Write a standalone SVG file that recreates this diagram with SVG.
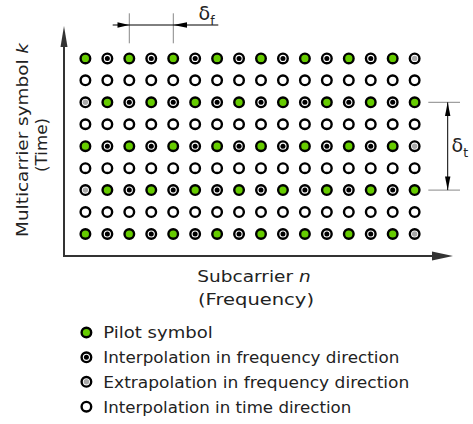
<svg xmlns="http://www.w3.org/2000/svg" xmlns:xlink="http://www.w3.org/1999/xlink" width="473" height="424" viewBox="0 0 473 424">
<style>
.lbl{font-family:"DejaVu Sans","Liberation Sans",sans-serif;font-size:16.5px;fill:#222}
.dl{font-family:"DejaVu Sans","Liberation Sans",sans-serif;font-size:19px;fill:#222}
.sub{font-size:12.5px}
.ax{stroke:#333;stroke-width:2;fill:none}
.ext{stroke:#888;stroke-width:1;fill:none}
.dim{stroke:#000;stroke-width:1;fill:none}
.ring{stroke:#000;stroke-width:2.4}
</style>
<defs>
<g id="P"><circle class="ring" r="4.8" fill="#66cc00"/></g>
<g id="D"><circle class="ring" r="4.8" fill="#fff"/><circle r="2.5" fill="#000"/></g>
<g id="G"><circle class="ring" r="4.8" fill="#fff"/><circle r="2.7" fill="#a8a8a8"/></g>
<g id="O"><circle class="ring" r="4.8" fill="#fff"/></g>
</defs>
<rect width="473" height="424" fill="#fff"/>
<g id="connectors">
<path class="ax" d="M64,40 V256 H440"/>
<polygon points="64,26 60.5,47 67.5,47" fill="#333"/>
<polygon points="453,256 432,251.5 432,260.5" fill="#333"/>
<line class="ext" x1="129.3" y1="13.3" x2="129.3" y2="43.3"/>
<line class="ext" x1="173.3" y1="13.3" x2="173.3" y2="43.3"/>
<line class="dim" x1="112.7" y1="25" x2="218.3" y2="25"/>
<polygon points="129.3,25 117.5,22.3 117.5,27.7" fill="#000"/>
<polygon points="173.3,25 187,22.3 187,27.7" fill="#000"/>
<line class="ext" x1="428.3" y1="102.3" x2="460" y2="102.3"/>
<line class="ext" x1="428.3" y1="190.1" x2="460" y2="190.1"/>
<line class="dim" x1="447.7" y1="102.3" x2="447.7" y2="190.1"/>
<polygon points="447.7,102.3 445,116 450.4,116" fill="#000"/>
<polygon points="447.7,190.1 445,176.4 450.4,176.4" fill="#000"/>
</g>
<g id="row0" transform="translate(0,58.4)">
<use xlink:href="#P" x="85.4"/><use xlink:href="#D" x="107.35"/><use xlink:href="#P" x="129.3"/><use xlink:href="#D" x="151.25"/><use xlink:href="#P" x="173.2"/><use xlink:href="#D" x="195.15"/><use xlink:href="#P" x="217.1"/><use xlink:href="#D" x="239.05"/><use xlink:href="#P" x="261"/><use xlink:href="#D" x="282.95"/><use xlink:href="#P" x="304.9"/><use xlink:href="#D" x="326.85"/><use xlink:href="#P" x="348.8"/><use xlink:href="#D" x="370.75"/><use xlink:href="#P" x="392.7"/><use xlink:href="#G" x="414.65"/>
</g>
<g id="row1" transform="translate(0,80.35)">
<use xlink:href="#O" x="85.4"/><use xlink:href="#O" x="107.35"/><use xlink:href="#O" x="129.3"/><use xlink:href="#O" x="151.25"/><use xlink:href="#O" x="173.2"/><use xlink:href="#O" x="195.15"/><use xlink:href="#O" x="217.1"/><use xlink:href="#O" x="239.05"/><use xlink:href="#O" x="261"/><use xlink:href="#O" x="282.95"/><use xlink:href="#O" x="304.9"/><use xlink:href="#O" x="326.85"/><use xlink:href="#O" x="348.8"/><use xlink:href="#O" x="370.75"/><use xlink:href="#O" x="392.7"/><use xlink:href="#O" x="414.65"/>
</g>
<g id="row2" transform="translate(0,102.3)">
<use xlink:href="#G" x="85.4"/><use xlink:href="#P" x="107.35"/><use xlink:href="#D" x="129.3"/><use xlink:href="#P" x="151.25"/><use xlink:href="#D" x="173.2"/><use xlink:href="#P" x="195.15"/><use xlink:href="#D" x="217.1"/><use xlink:href="#P" x="239.05"/><use xlink:href="#D" x="261"/><use xlink:href="#P" x="282.95"/><use xlink:href="#D" x="304.9"/><use xlink:href="#P" x="326.85"/><use xlink:href="#D" x="348.8"/><use xlink:href="#P" x="370.75"/><use xlink:href="#D" x="392.7"/><use xlink:href="#P" x="414.65"/>
</g>
<g id="row3" transform="translate(0,124.25)">
<use xlink:href="#O" x="85.4"/><use xlink:href="#O" x="107.35"/><use xlink:href="#O" x="129.3"/><use xlink:href="#O" x="151.25"/><use xlink:href="#O" x="173.2"/><use xlink:href="#O" x="195.15"/><use xlink:href="#O" x="217.1"/><use xlink:href="#O" x="239.05"/><use xlink:href="#O" x="261"/><use xlink:href="#O" x="282.95"/><use xlink:href="#O" x="304.9"/><use xlink:href="#O" x="326.85"/><use xlink:href="#O" x="348.8"/><use xlink:href="#O" x="370.75"/><use xlink:href="#O" x="392.7"/><use xlink:href="#O" x="414.65"/>
</g>
<g id="row4" transform="translate(0,146.2)">
<use xlink:href="#P" x="85.4"/><use xlink:href="#D" x="107.35"/><use xlink:href="#P" x="129.3"/><use xlink:href="#D" x="151.25"/><use xlink:href="#P" x="173.2"/><use xlink:href="#D" x="195.15"/><use xlink:href="#P" x="217.1"/><use xlink:href="#D" x="239.05"/><use xlink:href="#P" x="261"/><use xlink:href="#D" x="282.95"/><use xlink:href="#P" x="304.9"/><use xlink:href="#D" x="326.85"/><use xlink:href="#P" x="348.8"/><use xlink:href="#D" x="370.75"/><use xlink:href="#P" x="392.7"/><use xlink:href="#G" x="414.65"/>
</g>
<g id="row5" transform="translate(0,168.15)">
<use xlink:href="#O" x="85.4"/><use xlink:href="#O" x="107.35"/><use xlink:href="#O" x="129.3"/><use xlink:href="#O" x="151.25"/><use xlink:href="#O" x="173.2"/><use xlink:href="#O" x="195.15"/><use xlink:href="#O" x="217.1"/><use xlink:href="#O" x="239.05"/><use xlink:href="#O" x="261"/><use xlink:href="#O" x="282.95"/><use xlink:href="#O" x="304.9"/><use xlink:href="#O" x="326.85"/><use xlink:href="#O" x="348.8"/><use xlink:href="#O" x="370.75"/><use xlink:href="#O" x="392.7"/><use xlink:href="#O" x="414.65"/>
</g>
<g id="row6" transform="translate(0,190.1)">
<use xlink:href="#G" x="85.4"/><use xlink:href="#P" x="107.35"/><use xlink:href="#D" x="129.3"/><use xlink:href="#P" x="151.25"/><use xlink:href="#D" x="173.2"/><use xlink:href="#P" x="195.15"/><use xlink:href="#D" x="217.1"/><use xlink:href="#P" x="239.05"/><use xlink:href="#D" x="261"/><use xlink:href="#P" x="282.95"/><use xlink:href="#D" x="304.9"/><use xlink:href="#P" x="326.85"/><use xlink:href="#D" x="348.8"/><use xlink:href="#P" x="370.75"/><use xlink:href="#D" x="392.7"/><use xlink:href="#P" x="414.65"/>
</g>
<g id="row7" transform="translate(0,212.05)">
<use xlink:href="#O" x="85.4"/><use xlink:href="#O" x="107.35"/><use xlink:href="#O" x="129.3"/><use xlink:href="#O" x="151.25"/><use xlink:href="#O" x="173.2"/><use xlink:href="#O" x="195.15"/><use xlink:href="#O" x="217.1"/><use xlink:href="#O" x="239.05"/><use xlink:href="#O" x="261"/><use xlink:href="#O" x="282.95"/><use xlink:href="#O" x="304.9"/><use xlink:href="#O" x="326.85"/><use xlink:href="#O" x="348.8"/><use xlink:href="#O" x="370.75"/><use xlink:href="#O" x="392.7"/><use xlink:href="#O" x="414.65"/>
</g>
<g id="row8" transform="translate(0,234)">
<use xlink:href="#P" x="85.4"/><use xlink:href="#D" x="107.35"/><use xlink:href="#P" x="129.3"/><use xlink:href="#D" x="151.25"/><use xlink:href="#P" x="173.2"/><use xlink:href="#D" x="195.15"/><use xlink:href="#P" x="217.1"/><use xlink:href="#D" x="239.05"/><use xlink:href="#P" x="261"/><use xlink:href="#D" x="282.95"/><use xlink:href="#P" x="304.9"/><use xlink:href="#D" x="326.85"/><use xlink:href="#P" x="348.8"/><use xlink:href="#D" x="370.75"/><use xlink:href="#P" x="392.7"/><use xlink:href="#G" x="414.65"/>
</g>
<g id="delta-f"><text class="dl" x="198.5" y="20">δ<tspan class="sub" dy="5">f</tspan></text></g>
<g id="delta-t"><text class="dl" x="451.5" y="152">δ<tspan class="sub" dy="5">t</tspan></text></g>
<g id="y-label">
<text class="lbl" transform="translate(27.7,140) rotate(-90)" text-anchor="middle" textLength="194" lengthAdjust="spacingAndGlyphs">Multicarrier symbol <tspan font-style="italic">k</tspan></text>
<text class="lbl" transform="translate(46.7,145) rotate(-90)" text-anchor="middle" textLength="54" lengthAdjust="spacingAndGlyphs">(Time)</text>
</g>
<g id="x-label">
<text class="lbl" x="197.3" y="281.5" textLength="113.4" lengthAdjust="spacingAndGlyphs">Subcarrier <tspan font-style="italic">n</tspan></text>
<text class="lbl" x="198" y="304.5" textLength="116" lengthAdjust="spacingAndGlyphs">(Frequency)</text>
</g>
<g id="legend-pilot"><use xlink:href="#P" x="86.4" y="332.5"/><text class="lbl" x="103.3" y="338.3" textLength="109.4" lengthAdjust="spacingAndGlyphs">Pilot symbol</text></g>
<g id="legend-freq-interp"><use xlink:href="#D" x="86.4" y="357.3"/><text class="lbl" x="103.3" y="363.2" textLength="296" lengthAdjust="spacingAndGlyphs">Interpolation in frequency direction</text></g>
<g id="legend-freq-extrap"><use xlink:href="#G" x="86.4" y="381.8"/><text class="lbl" x="103.3" y="387.7" textLength="306" lengthAdjust="spacingAndGlyphs">Extrapolation in frequency direction</text></g>
<g id="legend-time-interp"><use xlink:href="#O" x="86.4" y="406.7"/><text class="lbl" x="103.3" y="412.5" textLength="248" lengthAdjust="spacingAndGlyphs">Interpolation in time direction</text></g>
</svg>
